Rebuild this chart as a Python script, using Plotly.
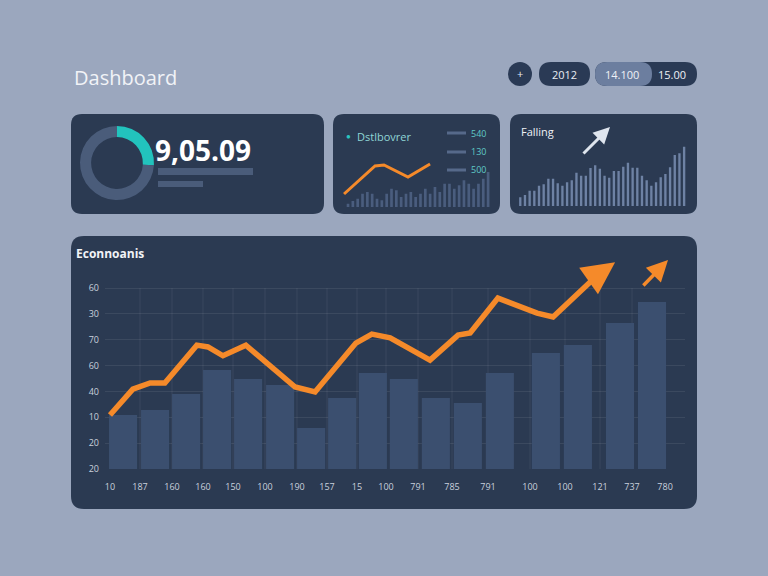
import plotly.graph_objects as go

W, H = 768, 576

# ---------------- data ----------------
# main chart
x_labels = ["10", "187", "160", "160", "150", "100", "190", "157", "15", "100",
            "791", "785", "791", "100", "100", "121", "737", "780"]
x_label_pos = [0, 0.919, 1.899, 2.848, 3.767, 4.747, 5.727, 6.646, 7.565, 8.453,
               9.433, 10.475, 11.577, 12.864, 13.936, 15.008, 15.988, 17.0]
y_tick_vals = [0, 10, 20, 30, 40, 50, 60, 70]
y_tick_text = ["20", "20", "10", "40", "60", "70", "30", "60"]

bar_x = [0.40, 1.38, 2.33, 3.28, 4.23, 5.21, 6.16, 7.11, 8.05, 9.0, 9.98,
         10.96, 11.94, 13.35, 14.33, 15.62, 16.60]
bar_values = [20.9, 22.8, 29.0, 38.3, 34.8, 32.5, 15.9, 27.5, 37.1, 34.8, 27.5,
              25.5, 37.1, 44.9, 48.0, 56.5, 64.6]

line_x = [0, 0.70, 1.23, 1.68, 2.66, 3.0, 3.46, 4.16, 5.67, 6.28, 7.53, 8.02,
          8.58, 9.80, 10.66, 11.03, 11.88, 13.08, 13.57, 15.0, 15.47]
line_y = [20.9, 30.9, 33.3, 33.3, 47.9, 47.2, 43.8, 47.9, 31.7, 29.8, 48.7, 52.2,
          50.7, 42.1, 51.8, 52.6, 66.1, 60.3, 58.8, 75.8, 80.0]
extra_arrow_x = [16.29, 17.09]
extra_arrow_y = [70.4, 80.8]

# card 1 donut
donut_values = [26, 74]
kpi_text = "9,05.09"

# card 2 mini chart
mini2_bars = [3.3, 6, 8.3, 13.3, 15, 13.3, 8.3, 6.7, 13.3, 18.3, 16.7, 10, 13.3, 15,
              10, 13.3, 18.3, 13.3, 20, 15, 23.3, 23.3, 18.3, 21.7, 26.7, 23.3,
              18.3, 23.3, 28.3, 35]
mini2_line_x = [-0.83, 5.59, 7.45, 12.42, 16.98, 18.0]
mini2_line_y = [13, 41, 42, 30, 43, 47]
mini2_legend = ["540", "130", "500"]

# card 3 mini chart
mini3_bars = [8.7, 11, 15.3, 15.3, 20.3, 21.7, 27.3, 27.3, 22.7, 20.3, 23.7, 25.7,
              33.3, 30.3, 30.3, 38, 40.7, 37.3, 30.3, 28.3, 35, 35, 39.3, 43.3,
              38.3, 38.3, 30.3, 25.7, 20.3, 23.7, 28.7, 32, 38.7, 51, 52.7, 59.3]

# header pills
pill_texts = ["+", "2012", "14.100", "15.00"]

# ---------------- styles ----------------
BG = "#9ba7be"
PANEL = "#2b3a52"
ORANGE = "#f58a2a"
FONT = "Open Sans"


def px(x):
    return x / W


def py(y):
    return 1 - y / H


def rrect(x0, y0, x1, y1, r):
    p = lambda a, b: f"{px(a):.5f},{py(b):.5f}"
    return (f"M {p(x0 + r, y0)} L {p(x1 - r, y0)} Q {p(x1, y0)} {p(x1, y0 + r)} "
            f"L {p(x1, y1 - r)} Q {p(x1, y1)} {p(x1 - r, y1)} "
            f"L {p(x0 + r, y1)} Q {p(x0, y1)} {p(x0, y1 - r)} "
            f"L {p(x0, y0 + r)} Q {p(x0, y0)} {p(x0 + r, y0)} Z")


shapes = []
for (a, b, c, d, r) in [(71, 114, 324, 214, 11), (333, 114, 500, 214, 11),
                        (510, 114, 697, 214, 11), (71, 236, 697, 509, 13)]:
    shapes.append(dict(type="path", path=rrect(a, b, c, d, r), xref="paper", yref="paper",
                       fillcolor=PANEL, line=dict(width=0), layer="below"))

# header pills
shapes.append(dict(type="circle", xref="paper", yref="paper", x0=px(508), x1=px(532),
                   y0=py(86), y1=py(62), fillcolor="#2a3a55", line=dict(width=0)))
shapes.append(dict(type="path", path=rrect(539, 62, 590, 86, 12), xref="paper", yref="paper",
                   fillcolor="#2a3a55", line=dict(width=0)))
shapes.append(dict(type="path", path=rrect(595, 62, 697, 86, 12), xref="paper", yref="paper",
                   fillcolor="#2a3a55", line=dict(width=0)))
shapes.append(dict(type="path", path=rrect(595, 62, 652, 86, 12), xref="paper", yref="paper",
                   fillcolor="#6c7e9f", line=dict(width=0)))

# card 1 placeholder bars
shapes.append(dict(type="rect", xref="paper", yref="paper", x0=px(158), x1=px(253),
                   y0=py(175), y1=py(168), fillcolor="#4a5c7a", line=dict(width=0)))
shapes.append(dict(type="rect", xref="paper", yref="paper", x0=px(158), x1=px(203),
                   y0=py(187), y1=py(181), fillcolor="#4a5c7a", line=dict(width=0)))

# card 2 legend lines
for yy in (133, 152, 170):
    shapes.append(dict(type="line", xref="paper", yref="paper", x0=px(447), x1=px(466),
                       y0=py(yy), y1=py(yy), line=dict(color="#56698a", width=3)))

# main vertical grid lines
for xv in x_label_pos[1:-1]:
    shapes.append(dict(type="line", xref="x", yref="y", x0=xv, x1=xv, y0=0, y1=70,
                       line=dict(color="rgba(255,255,255,0.07)", width=1), layer="below"))

fig = go.Figure()

# main bars + line
fig.add_trace(go.Bar(x=bar_x, y=bar_values, width=0.86, marker=dict(color="#3b4f6f", line=dict(width=0)),
                     xaxis="x", yaxis="y", showlegend=False, hoverinfo="skip"))
fig.add_trace(go.Scatter(x=line_x[:-1], y=line_y[:-1], mode="lines",
                         line=dict(color=ORANGE, width=5.5), xaxis="x", yaxis="y",
                         showlegend=False, hoverinfo="skip"))

# card 1 donut
fig.add_trace(go.Pie(values=donut_values, hole=0.7, sort=False, direction="clockwise", rotation=0,
                     marker=dict(colors=["#22c3bd", "#4a5c7a"], line=dict(width=0)),
                     textinfo="none", showlegend=False, hoverinfo="skip",
                     domain=dict(x=[px(80), px(154)], y=[py(200), py(126)])))

# card 2 mini chart
fig.add_trace(go.Bar(x=list(range(len(mini2_bars))), y=mini2_bars, width=0.55,
                     marker=dict(color="#4a5d7e", line=dict(width=0)), xaxis="x2", yaxis="y2",
                     showlegend=False, hoverinfo="skip"))
fig.add_trace(go.Scatter(x=mini2_line_x[:-1], y=mini2_line_y[:-1], mode="lines",
                         line=dict(color=ORANGE, width=3), xaxis="x2", yaxis="y2",
                         showlegend=False, hoverinfo="skip"))

# card 3 mini chart
fig.add_trace(go.Bar(x=list(range(len(mini3_bars))), y=mini3_bars, width=0.5,
                     marker=dict(color="#6e82a4", line=dict(width=0)), xaxis="x3", yaxis="y3",
                     showlegend=False, hoverinfo="skip"))

annotations = []
# arrowheads
annotations.append(dict(x=line_x[-1], y=line_y[-1], ax=line_x[-2], ay=line_y[-2], xref="x", yref="y",
                        axref="x", ayref="y", showarrow=True, arrowhead=2, arrowsize=1.3,
                        arrowwidth=5, arrowcolor=ORANGE, text=""))
annotations.append(dict(x=extra_arrow_x[1], y=extra_arrow_y[1], ax=extra_arrow_x[0], ay=extra_arrow_y[0],
                        xref="x", yref="y", axref="x", ayref="y", showarrow=True, arrowhead=2,
                        arrowsize=1.2, arrowwidth=3.5, arrowcolor=ORANGE, text=""))
annotations.append(dict(x=mini2_line_x[-1], y=mini2_line_y[-1], ax=mini2_line_x[-2], ay=mini2_line_y[-2],
                        xref="x2", yref="y2", axref="x2", ayref="y2", showarrow=True, arrowhead=2,
                        arrowsize=1.3, arrowwidth=3, arrowcolor=ORANGE, text=""))
annotations.append(dict(x=px(610), y=py(127), xref="paper", yref="paper", ax=-28, ay=28,
                        showarrow=True, arrowhead=2, arrowsize=1.1, arrowwidth=3,
                        arrowcolor="#dfe5ee", text=""))


def txt(x, y, s, size, color, anchor="left", bold=False, family=FONT):
    annotations.append(dict(x=px(x), y=py(y), xref="paper", yref="paper", text=(f"<b>{s}</b>" if bold else s),
                            showarrow=False, xanchor=anchor, yanchor="middle",
                            font=dict(size=size, color=color, family=family)))


txt(72, 77, "Dashboard", 20, "#f1f3f7")
txt(520, 73, pill_texts[0], 11, "#e8ecf3", "center")
txt(564, 74, pill_texts[1], 11, "#e8ecf3", "center")
txt(622, 74, pill_texts[2], 11, "#eef1f6", "center")
txt(672, 74, pill_texts[3], 11, "#eef1f6", "center")
txt(153, 150, kpi_text, 28, "#ffffff", "left", True)
txt(344, 135, "●", 8, "#2ac4c0")
txt(355, 136, "Dstlbovrer", 11, "#8fd6d6")
for yy, s in zip((133, 152, 170), mini2_legend):
    txt(469, yy, s, 9, "#5fc9c6")
txt(519, 131, "Falling", 11, "#eef1f6")
txt(74, 253, "Econnoanis", 12, "#f1f3f7", "left", True)

fig.update_layout(
    width=W, height=H, autosize=False,
    margin=dict(l=0, r=0, t=0, b=0, pad=0, autoexpand=False),
    paper_bgcolor=BG, plot_bgcolor="rgba(0,0,0,0)",
    shapes=shapes, annotations=annotations,
    font=dict(family=FONT, color="#c9d1dd"),
    xaxis=dict(domain=[px(105), px(685)], range=[-0.153, 17.61], tickvals=x_label_pos, ticktext=x_labels,
               showgrid=False, zeroline=False, showline=False, ticks="", ticklabelstandoff=11,
               automargin=False, tickfont=dict(size=9, color="#c9d1dd"), fixedrange=True),
    yaxis=dict(domain=[1 - 469 / H, 1 - 257 / H], range=[0, 82], tickvals=y_tick_vals, ticktext=y_tick_text,
               showgrid=True, gridcolor="rgba(255,255,255,0.08)", gridwidth=1, zeroline=False,
               automargin=False, showline=False, ticks="", ticklabelstandoff=5,
               tickfont=dict(size=9, color="#c9d1dd"), fixedrange=True),
    xaxis2=dict(domain=[px(340.3), px(491)], range=[-1.6, 29.6], visible=False, anchor="y2", fixedrange=True),
    yaxis2=dict(domain=[1 - 207 / H, 1 - 147 / H], range=[0, 60], visible=False, anchor="x2", fixedrange=True),
    xaxis3=dict(domain=[px(515.6), px(688.8)], range=[-1, 36], visible=False, anchor="y3", fixedrange=True),
    yaxis3=dict(domain=[1 - 206 / H, 1 - 141 / H], range=[0, 65], visible=False, anchor="x3", fixedrange=True),
)

fig.write_html("out.html", config={"displayModeBar": False},
               post_script="document.body.style.margin='0';")
